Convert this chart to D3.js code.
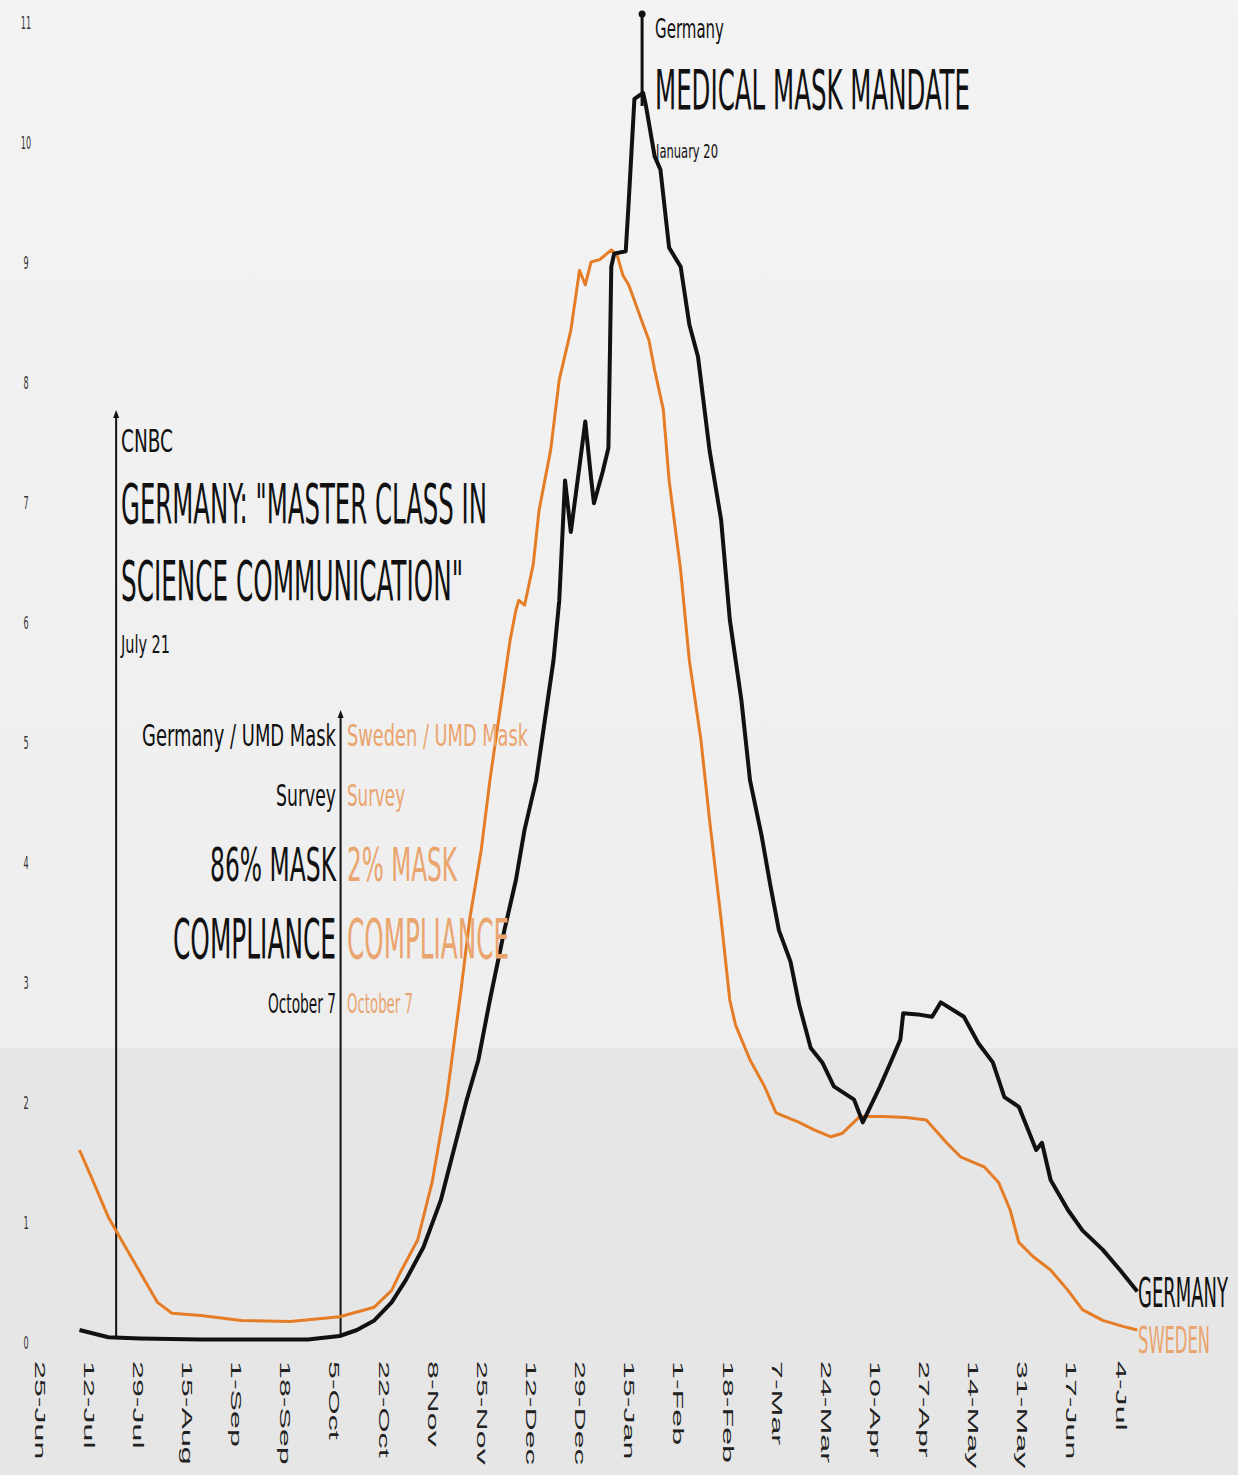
<!DOCTYPE html>
<html><head><meta charset="utf-8">
<script src="https://cdn.jsdelivr.net/npm/d3@7"></script>
<style>body{margin:0;background:#eee;} svg{display:block}</style>
</head><body><svg id="c" width="1238" height="1475"></svg>
<script>
// ---------- data ----------
const germanyDates = ["2020-07-09","2020-07-19","2020-07-30","2020-08-20","2020-09-09","2020-09-26","2020-10-07","2020-10-13","2020-10-19","2020-10-25","2020-10-30","2020-11-05","2020-11-11","2020-11-17","2020-11-20","2020-11-24","2020-11-28","2020-12-03","2020-12-07","2020-12-10","2020-12-14","2020-12-17","2020-12-20","2020-12-22","2020-12-24","2020-12-26","2020-12-29","2020-12-31","2021-01-02","2021-01-03","2021-01-06","2021-01-08","2021-01-09","2021-01-10","2021-01-14","2021-01-15","2021-01-17","2021-01-20","2021-01-21","2021-01-24","2021-01-26","2021-01-29","2021-02-02","2021-02-05","2021-02-08","2021-02-12","2021-02-16","2021-02-19","2021-02-23","2021-02-26","2021-03-02","2021-03-05","2021-03-08","2021-03-12","2021-03-15","2021-03-19","2021-03-23","2021-03-27","2021-04-03","2021-04-06","2021-04-12","2021-04-16","2021-04-19","2021-04-20","2021-04-25","2021-04-30","2021-05-03","2021-05-11","2021-05-16","2021-05-21","2021-05-25","2021-05-30","2021-06-05","2021-06-07","2021-06-10","2021-06-16","2021-06-21","2021-06-28","2021-07-04","2021-07-10"];
const germanyValues = [0.10,0.04,0.03,0.02,0.02,0.02,0.05,0.10,0.18,0.33,0.52,0.79,1.18,1.74,2.02,2.35,2.85,3.43,3.85,4.27,4.68,5.18,5.68,6.18,7.18,6.75,7.30,7.67,7.20,6.99,7.25,7.45,8.96,9.07,9.09,9.49,10.36,10.41,10.30,9.88,9.77,9.12,8.96,8.48,8.21,7.43,6.85,6.02,5.35,4.68,4.22,3.81,3.43,3.17,2.81,2.45,2.33,2.13,2.02,1.83,2.13,2.35,2.52,2.74,2.73,2.71,2.83,2.71,2.49,2.33,2.04,1.96,1.60,1.66,1.35,1.10,0.93,0.77,0.60,0.42];

const swedenDates = ["2020-07-09","2020-07-13","2020-07-19","2020-07-24","2020-07-30","2020-08-05","2020-08-10","2020-08-20","2020-09-03","2020-09-20","2020-10-07","2020-10-19","2020-10-25","2020-10-28","2020-11-03","2020-11-08","2020-11-13","2020-11-18","2020-11-21","2020-11-25","2020-11-28","2020-12-02","2020-12-05","2020-12-07","2020-12-08","2020-12-10","2020-12-13","2020-12-15","2020-12-19","2020-12-22","2020-12-26","2020-12-29","2020-12-31","2021-01-02","2021-01-05","2021-01-09","2021-01-11","2021-01-13","2021-01-15","2021-01-17","2021-01-20","2021-01-22","2021-01-24","2021-01-27","2021-01-29","2021-02-02","2021-02-05","2021-02-09","2021-02-12","2021-02-16","2021-02-19","2021-02-21","2021-02-26","2021-03-03","2021-03-07","2021-03-15","2021-03-20","2021-03-26","2021-03-30","2021-04-05","2021-04-13","2021-04-21","2021-04-28","2021-05-05","2021-05-10","2021-05-18","2021-05-23","2021-05-27","2021-05-30","2021-06-04","2021-06-10","2021-06-16","2021-06-21","2021-06-28","2021-07-05","2021-07-10"];
const swedenValues = [1.60,1.38,1.04,0.83,0.58,0.33,0.24,0.22,0.18,0.17,0.21,0.29,0.43,0.58,0.85,1.33,2.02,2.93,3.52,4.10,4.68,5.35,5.85,6.10,6.18,6.14,6.48,6.93,7.43,8.02,8.43,8.93,8.81,9.00,9.02,9.10,9.06,8.89,8.81,8.68,8.48,8.35,8.10,7.77,7.18,6.43,5.68,5.02,4.35,3.52,2.85,2.64,2.35,2.13,1.91,1.83,1.77,1.71,1.74,1.88,1.88,1.87,1.85,1.66,1.54,1.46,1.33,1.10,0.83,0.71,0.60,0.43,0.27,0.18,0.13,0.10];

const yTicks = [0,1,2,3,4,5,6,7,8,9,10,11];
const xTickDates = ["2020-06-25","2020-07-12","2020-07-29","2020-08-15","2020-09-01","2020-09-18","2020-10-05","2020-10-22","2020-11-08","2020-11-25","2020-12-12","2020-12-29","2021-01-15","2021-02-01","2021-02-18","2021-03-07","2021-03-24","2021-04-10","2021-04-27","2021-05-14","2021-05-31","2021-06-17","2021-07-04"];
const seriesNames = ["GERMANY","SWEDEN"];
const eventDates = ["2020-07-21","2020-10-07","2021-01-20"];

// ---------- setup ----------
const parse = d3.utcParse("%Y-%m-%d");
const svg = d3.select("#c");
const W = 1238, H = 1475;
const FONT = "'Liberation Sans Narrow','DejaVu Sans Condensed','Liberation Sans',Arial,sans-serif";
const BLACK = "#111", ORANGE = "#e57c26", ORANGE_T = "#eaa46e";

const x = d3.scaleUtc().domain([parse(xTickDates[0]), parse(xTickDates[xTickDates.length-1])]).range([39, 1120]);
const y = d3.scaleLinear().domain([0, 11]).range([1342, 22]);

// background
const defs = svg.append("defs");
const grad = defs.append("linearGradient").attr("id","bg").attr("x1",0).attr("y1",0).attr("x2",0).attr("y2",1);
grad.append("stop").attr("offset","0%").attr("stop-color","#f3f3f3");
grad.append("stop").attr("offset","100%").attr("stop-color","#ececec");
svg.append("rect").attr("width",W).attr("height",H).attr("fill","url(#bg)");
svg.append("rect").attr("x",0).attr("y",1048).attr("width",W).attr("height",H-1048).attr("fill","#e6e6e6");

// axes
const yAxis = svg.append("g").attr("transform","translate(30,0)")
  .call(d3.axisLeft(y).tickValues(yTicks).tickSize(0).tickFormat(d3.format("d")));
yAxis.select(".domain").remove();
yAxis.selectAll(".tick text")
   .attr("x",null)
   .attr("transform","translate(-4,0) scale(0.5,1)")
   .attr("dy","0.35em").attr("text-anchor","middle")
   .attr("font-family",FONT).attr("font-size",18).attr("fill","#333");

const xAxis = svg.append("g").attr("transform","translate(0,1361)")
  .call(d3.axisBottom(x).tickValues(xTickDates.map(parse)).tickSize(0).tickFormat(d3.utcFormat("%-d-%b")));
xAxis.select(".domain").remove();
xAxis.selectAll(".tick text")
    .attr("y",0).attr("dy","0.35em")
    .attr("transform","rotate(90) scale(2.3,1)")
    .attr("text-anchor","start")
    .attr("font-family","'Liberation Sans',Arial,sans-serif").attr("font-size",14).attr("fill","#222");

// annotation vertical lines
const [cnbcD, octD, janD] = eventDates.map(parse);
const ann = svg.append("g");
ann.append("line").attr("x1",x(cnbcD)+2).attr("x2",x(cnbcD)+2).attr("y1",414).attr("y2",y(0.04))
  .attr("stroke",BLACK).attr("stroke-width",2);
ann.append("path").attr("d",`M${x(cnbcD)+2},410 l-3,8 l6,0 z`).attr("fill",BLACK);
ann.append("line").attr("x1",x(octD)+1).attr("x2",x(octD)+1).attr("y1",714).attr("y2",y(0.06))
  .attr("stroke",BLACK).attr("stroke-width",2);
ann.append("path").attr("d",`M${x(octD)+1},710 l-3,8 l6,0 z`).attr("fill",BLACK);
ann.append("line").attr("x1",x(janD)-1).attr("x2",x(janD)-1).attr("y1",14).attr("y2",y(10.3))
  .attr("stroke",BLACK).attr("stroke-width",3);
ann.append("circle").attr("cx",x(janD)-1).attr("cy",14).attr("r",3.5).attr("fill",BLACK);

// lines
const line = d3.line().x(d=>x(d[0])).y(d=>y(d[1]));
const swe = swedenDates.map((d,i)=>[parse(d), swedenValues[i]]);
const ger = germanyDates.map((d,i)=>[parse(d), germanyValues[i]]);
svg.append("path").datum(swe).attr("d",line).attr("fill","none").attr("stroke",ORANGE).attr("stroke-width",3).attr("stroke-linejoin","round");
svg.append("path").datum(ger).attr("d",line).attr("fill","none").attr("stroke",BLACK).attr("stroke-width",4).attr("stroke-linejoin","round");

// text helper
function txt(t){
  const e = svg.append("text").attr("x",t.x).attr("y",t.y).text(t.s)
    .attr("font-family",FONT).attr("font-size",t.size).attr("fill",t.fill||BLACK)
    .attr("text-anchor",t.anchor||"start");
  if (t.len) e.attr("textLength",t.len).attr("lengthAdjust","spacingAndGlyphs");
  return e;
}
// top annotation
txt({x:655,y:38,s:"Germany",size:26,len:69});
txt({x:655,y:109,s:"MEDICAL MASK MANDATE",size:55,len:315});
txt({x:656,y:158,s:"January 20",size:19,len:62});
// CNBC
txt({x:121,y:452,s:"CNBC",size:32,len:52});
txt({x:121,y:523,s:"GERMANY: \"MASTER CLASS IN",size:56,len:366});
txt({x:121,y:600,s:"SCIENCE COMMUNICATION\"",size:56,len:342});
txt({x:121,y:653,s:"July 21",size:24,len:49});
// UMD survey - Germany (left)
const lx = 336, rx = 347;
txt({x:lx,y:746,s:"Germany / UMD Mask",size:31,len:194,anchor:"end"});
txt({x:lx,y:806,s:"Survey",size:31,len:60,anchor:"end"});
txt({x:lx,y:881,s:"86% MASK",size:47,len:126,anchor:"end"});
txt({x:lx,y:958,s:"COMPLIANCE",size:55,len:163,anchor:"end"});
txt({x:lx,y:1013,s:"October 7",size:26,len:68,anchor:"end"});
// Sweden (right)
txt({x:rx,y:746,s:"Sweden / UMD Mask",size:31,len:181,fill:ORANGE_T});
txt({x:rx,y:806,s:"Survey",size:31,len:58,fill:ORANGE_T});
txt({x:rx,y:881,s:"2% MASK",size:47,len:110,fill:ORANGE_T});
txt({x:rx,y:958,s:"COMPLIANCE",size:55,len:162,fill:ORANGE_T});
txt({x:rx,y:1013,s:"October 7",size:26,len:66,fill:ORANGE_T});
// series end labels
txt({x:1138,y:1307,s:seriesNames[0],size:40,len:90});
txt({x:1138,y:1353,s:seriesNames[1],size:38,len:72,fill:ORANGE_T});
</script></body></html>
